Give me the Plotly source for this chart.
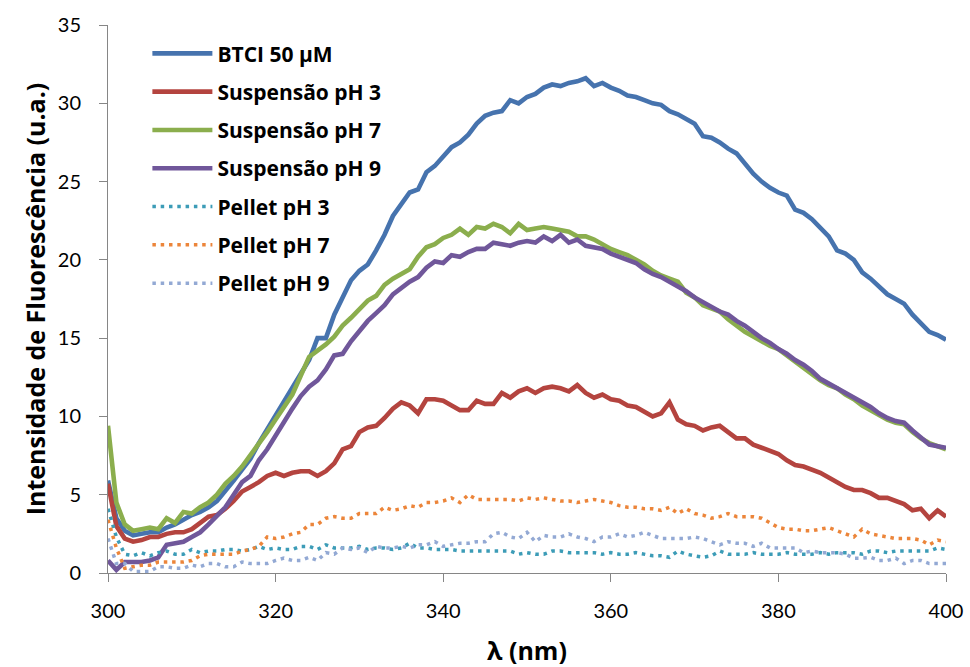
import plotly.graph_objects as go

wavelength = list(range(300, 401))

btci = [5.9, 3.5, 2.7, 2.4, 2.5, 2.6, 2.6, 2.9, 3.1, 3.4,
        3.7, 3.9, 4.2, 4.6, 5.2, 5.9, 6.6, 7.3, 8.3, 9.2,
        10.1, 10.9, 11.8, 12.8, 13.6, 15.0, 15.0, 16.5, 17.6, 18.7,
        19.3, 19.7, 20.6, 21.6, 22.8, 23.6, 24.3, 24.5, 25.6, 26.0,
        26.6, 27.2, 27.5, 28.0, 28.7, 29.2, 29.4, 29.5, 30.2, 30.0,
        30.4, 30.6, 31.0, 31.2, 31.1, 31.3, 31.4, 31.6, 31.1, 31.3,
        31.0, 30.8, 30.5, 30.4, 30.2, 30.0, 29.9, 29.5, 29.3, 29.0,
        28.7, 27.9, 27.8, 27.5, 27.1, 26.8, 26.1, 25.5, 25.0, 24.6,
        24.3, 24.1, 23.2, 23.0, 22.6, 22.0, 21.5, 20.6, 20.4, 20.0,
        19.2, 18.8, 18.3, 17.8, 17.5, 17.2, 16.5, 16.0, 15.4, 15.2,
        14.9]

susp_ph3 = [5.7, 3.0, 2.2, 2.0, 2.1, 2.3, 2.3, 2.5, 2.6, 2.6,
            2.8, 3.2, 3.6, 3.7, 4.1, 4.6, 5.2, 5.5, 5.8, 6.2,
            6.4, 6.2, 6.4, 6.5, 6.5, 6.2, 6.5, 7.0, 7.9, 8.1,
            9.0, 9.3, 9.4, 9.9, 10.5, 10.9, 10.7, 10.2, 11.1, 11.1,
            11.0, 10.7, 10.4, 10.4, 11.0, 10.8, 10.8, 11.5, 11.2, 11.6,
            11.8, 11.5, 11.8, 11.9, 11.8, 11.6, 12.0, 11.5, 11.2, 11.4,
            11.1, 11.0, 10.7, 10.6, 10.3, 10.0, 10.2, 10.9, 9.8, 9.5,
            9.4, 9.1, 9.3, 9.4, 9.0, 8.6, 8.6, 8.2, 8.0, 7.8,
            7.6, 7.2, 6.9, 6.8, 6.6, 6.4, 6.1, 5.8, 5.5, 5.3,
            5.3, 5.1, 4.8, 4.8, 4.6, 4.4, 4.0, 4.1, 3.5, 4.0,
            3.6]

susp_ph7 = [9.4, 4.5, 3.1, 2.7, 2.8, 2.9, 2.8, 3.5, 3.2, 3.9,
            3.8, 4.2, 4.5, 5.0, 5.7, 6.2, 6.8, 7.5, 8.3, 9.0,
            9.8, 10.6, 11.4, 12.6, 13.8, 14.2, 14.6, 15.1, 15.8, 16.3,
            16.9, 17.4, 17.7, 18.4, 18.8, 19.1, 19.4, 20.2, 20.8, 21.0,
            21.4, 21.6, 22.0, 21.6, 22.1, 22.0, 22.3, 22.1, 21.7, 22.3,
            21.9, 22.0, 22.1, 22.0, 21.9, 21.8, 21.5, 21.5, 21.3, 21.0,
            20.7, 20.5, 20.3, 20.0, 19.7, 19.3, 19.0, 18.8, 18.6, 17.9,
            17.6, 17.1, 16.9, 16.7, 16.2, 15.8, 15.4, 15.1, 14.8, 14.5,
            14.3, 13.9, 13.5, 13.1, 12.7, 12.3, 12.0, 11.8, 11.4, 11.1,
            10.7, 10.4, 10.1, 9.8, 9.6, 9.5, 9.0, 8.6, 8.3, 8.1,
            7.9]

susp_ph9 = [0.8, 0.2, 0.7, 0.7, 0.7, 0.8, 1.0, 1.8, 1.9, 2.0,
            2.3, 2.6, 3.1, 3.6, 4.2, 5.0, 5.8, 6.2, 7.2, 7.9,
            8.8, 9.7, 10.5, 11.3, 11.9, 12.3, 13.0, 13.9, 14.0, 14.8,
            15.5, 16.1, 16.6, 17.1, 17.8, 18.2, 18.6, 18.9, 19.5, 19.9,
            19.8, 20.3, 20.2, 20.5, 20.7, 20.7, 21.1, 21.0, 20.9, 21.1,
            21.2, 21.1, 21.5, 21.2, 21.6, 21.1, 21.3, 20.9, 20.8, 20.7,
            20.4, 20.2, 20.0, 19.8, 19.4, 19.1, 18.9, 18.6, 18.3, 18.0,
            17.6, 17.3, 17.0, 16.7, 16.5, 16.1, 15.8, 15.4, 15.0, 14.7,
            14.3, 14.0, 13.6, 13.3, 12.9, 12.4, 12.1, 11.8, 11.5, 11.2,
            10.9, 10.6, 10.2, 9.9, 9.7, 9.6, 9.1, 8.6, 8.2, 8.1,
            8.0]

pellet_ph3 = [4.1, 2.3, 1.2, 1.1, 1.3, 1.1, 1.3, 1.4, 1.2, 1.2,
              1.5, 1.3, 1.4, 1.4, 1.5, 1.5, 1.4, 1.5, 1.7, 1.5,
              1.6, 1.5, 1.5, 1.7, 1.7, 1.5, 1.8, 1.6, 1.6, 1.6,
              1.7, 1.5, 1.6, 1.6, 1.5, 1.6, 1.9, 1.6, 1.6, 1.5,
              1.5, 1.5, 1.4, 1.4, 1.4, 1.4, 1.4, 1.4, 1.4, 1.2,
              1.3, 1.2, 1.2, 1.4, 1.4, 1.3, 1.3, 1.3, 1.3, 1.2,
              1.3, 1.2, 1.2, 1.3, 1.2, 1.1, 1.1, 1.0, 1.4, 1.2,
              1.1, 1.0, 1.1, 1.4, 1.2, 1.2, 1.2, 1.3, 1.2, 1.2,
              1.2, 1.3, 1.2, 1.2, 1.2, 1.3, 1.2, 1.3, 1.3, 1.3,
              1.2, 1.4, 1.4, 1.3, 1.4, 1.4, 1.4, 1.4, 1.4, 1.6,
              1.5]

pellet_ph7 = [3.4, 1.6, 0.3, 0.4, 0.5, 0.5, 0.7, 0.7, 0.7, 0.7,
              0.8, 1.1, 1.2, 1.2, 1.2, 1.2, 1.4, 1.5, 1.7, 2.3,
              2.2, 2.3, 2.5, 2.6, 3.1, 3.1, 3.5, 3.6, 3.5, 3.5,
              3.8, 3.8, 3.8, 4.2, 4.0, 4.1, 4.3, 4.2, 4.5, 4.5,
              4.6, 4.8, 4.5, 5.0, 4.7, 4.7, 4.7, 4.7, 4.7, 4.6,
              4.8, 4.7, 4.8, 4.7, 4.6, 4.6, 4.5, 4.6, 4.7, 4.6,
              4.5, 4.3, 4.2, 4.2, 4.1, 4.1, 4.0, 4.2, 3.8, 4.1,
              3.8, 3.7, 3.5, 3.6, 3.8, 3.6, 3.6, 3.6, 3.5, 3.2,
              2.9, 2.8, 2.8, 2.7, 2.7, 2.8, 2.9, 2.7, 2.5, 2.3,
              2.8, 2.5, 2.4, 2.3, 2.2, 2.2, 2.2, 2.1, 1.8, 2.1,
              2.0]

pellet_ph9 = [2.2, 0.6, 0.6, 0.1, 0.1, 0.1, 0.4, 0.4, 0.3, 0.3,
              0.5, 0.4, 0.6, 0.6, 0.4, 0.4, 0.7, 0.6, 0.6, 0.6,
              0.8, 0.95, 0.8, 0.8, 1.0, 0.8, 1.3, 1.2, 1.6, 1.5,
              1.6, 1.3, 1.7, 1.6, 1.6, 1.7, 1.6, 1.8, 1.8, 2.0,
              1.7, 1.8, 1.9, 1.9, 2.0, 2.0, 2.5, 2.6, 2.3, 2.2,
              2.6, 2.0, 2.4, 2.3, 2.3, 2.5, 2.3, 2.2, 2.0, 2.3,
              2.3, 2.5, 2.3, 2.4, 2.6, 2.4, 2.2, 2.2, 2.2, 2.2,
              2.3, 2.2, 2.0, 1.8, 2.0, 1.9, 1.9, 1.7, 1.9, 1.6,
              1.6, 1.6, 1.6, 1.3, 1.4, 1.3, 1.3, 1.3, 1.2, 0.95,
              0.95, 1.0, 0.8, 0.8, 0.95, 0.6, 0.8, 0.8, 0.6, 0.6,
              0.6]

series_names = ["BTCI 50 μM", "Suspensão pH 3", "Suspensão pH 7", "Suspensão pH 9",
                "Pellet pH 3", "Pellet pH 7", "Pellet pH 9"]
series_values = [btci, susp_ph3, susp_ph7, susp_ph9, pellet_ph3, pellet_ph7, pellet_ph9]
series_colors = ["#4673AE", "#B4443F", "#8BAE4D", "#70579A", "#3C9CB7", "#EC853A", "#93A9D4"]
series_dotted = [False, False, False, False, True, True, True]

x_tick_vals = [300, 320, 340, 360, 380, 400]
y_tick_vals = [0, 5, 10, 15, 20, 25, 30, 35]

TICK_FONT = "Lato"
BOLD_FONT = "Open Sans"

fig = go.Figure()
for name, vals, col, dotted in zip(series_names, series_values, series_colors, series_dotted):
    if dotted:
        line = dict(color=col, width=3.5, dash="3.5px,4.8px")
    else:
        line = dict(color=col, width=4.6)
    fig.add_trace(go.Scatter(x=wavelength, y=vals, mode="lines", name=name,
                             line=line, legendgroup=name))

axis_common = dict(
    showline=True, linecolor="#868686", linewidth=1,
    ticks="outside", ticklen=8, tickcolor="#868686", tickwidth=1,
    showgrid=False, zeroline=False,
    tickfont=dict(family=TICK_FONT, size=20, color="#000000"),
)

fig.update_layout(
    width=970, height=667,
    margin=dict(l=108, r=24, t=23, b=94),
    plot_bgcolor="white", paper_bgcolor="white",
    xaxis=dict(range=[300, 400], tickvals=x_tick_vals, ticklabelstandoff=12, automargin=False,
               title=dict(text="<b>λ (nm)</b>", font=dict(family=BOLD_FONT, size=25, color="#000000"), standoff=22),
               **axis_common),
    yaxis=dict(range=[0, 35], tickvals=y_tick_vals, ticklabelstandoff=14,
               title=dict(text="<b>Intensidade de Fluorescência (u.a.)</b>",
                          font=dict(family=BOLD_FONT, size=25, color="#000000"), standoff=5),
               **axis_common),
    legend=dict(x=0.047, y=0.985, xanchor="left", yanchor="top",
                font=dict(family=BOLD_FONT, size=21, color="#000000", weight="bold"),
                bgcolor="rgba(0,0,0,0)", tracegroupgap=8, itemwidth=60),
    showlegend=True,
)

fig.write_html("out.html")
